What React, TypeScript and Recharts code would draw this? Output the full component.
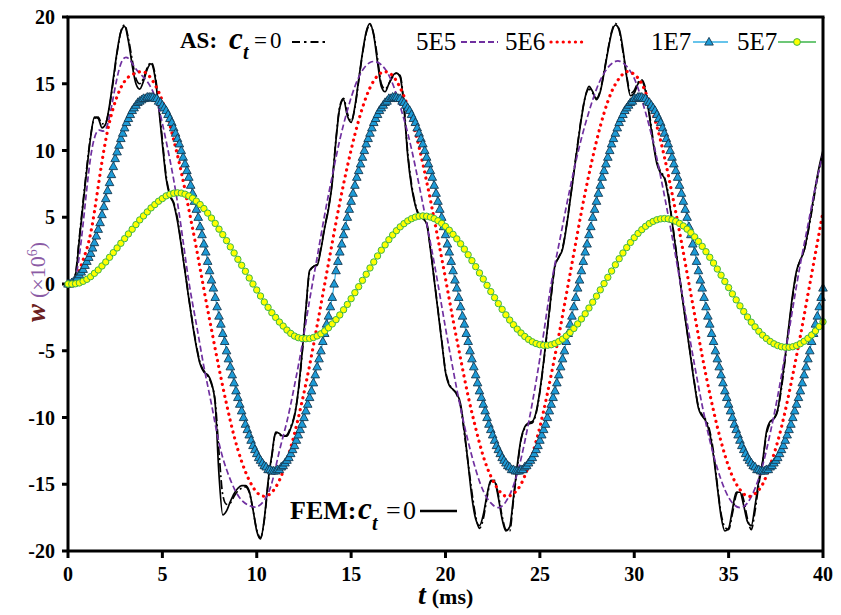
import React from "react";
import { LineChart, Line, XAxis, YAxis } from "recharts";

const SERIF = '"Liberation Serif", "Times New Roman", serif';

const xTicks = [0, 5, 10, 15, 20, 25, 30, 35, 40];
const yTicks = [-20, -15, -10, -5, 0, 5, 10, 15, 20];

const STEP_BLACK = 0.2;
const STEP_5E5 = 0.4;
const STEP_5E6 = 0.4;
const STEP_1E7 = 0.1;
const STEP_5E7 = 0.2;

// FEM, ct = 0 (solid black)
const femCt0 = [
  0, 0.1, 0.7, 3.3, 6.0, 8.6, 11.0, 12.5, 12.4, 11.7,
  12.0, 13.4, 15.4, 17.4, 18.9, 19.3, 18.2, 16.4, 15.0, 14.6,
  15.2, 16.1, 16.5, 15.6, 13.3, 10.5, 7.9, 6.6, 6.0, 4.7,
  2.9, 0.9, -1.1, -3.0, -4.7, -6.0, -6.6, -6.8, -7.4, -9.0,
  -14.3, -17.3, -17.0, -16.3, -15.7, -15.3, -15.1, -15.1, -15.5, -16.9,
  -18.5, -19.1, -17.6, -14.8, -12.8, -11.1, -11.2, -11.4, -11.4, -10.8,
  -9.9, -8.0, -5.2, -1.9, 1.0, 1.3, 1.4, 2.6, 4.2, 5.6,
  7.6, 10.8, 13.2, 13.8, 12.6, 12.1, 13.3, 15.3, 17.3, 18.9,
  19.5, 18.6, 16.6, 14.8, 14.4, 15.0, 15.6, 15.8, 15.5, 13.2,
  9.6, 7.3, 5.9, 5.1, 4.9, 4.5, 2.6, 0.3, -2.0, -4.3,
  -6.6, -7.6, -7.9, -8.2, -9.0, -11.0, -13.5, -16.0, -17.6, -18.1,
  -17.3, -15.8, -14.7, -14.8, -16.0, -17.6, -18.5, -18.2, -16.0, -13.6,
  -11.6, -10.7, -10.4, -10.3, -9.6, -8.0, -5.8, -3.3, -0.8, 1.4,
  2.0, 2.6, 4.2, 6.2, 8.3, 10.4, 12.4, 14.0, 14.8, 14.4,
  13.8, 14.4, 15.8, 17.4, 18.8, 19.4, 19.1, 17.6, 15.5, 14.1,
  14.3, 15.0, 15.2, 14.4, 12.6, 10.6, 9.0, 8.3, 7.9, 6.6,
  4.7, 2.6, 0.5, -1.6, -3.6, -5.6, -7.6, -9.3, -9.9, -10.3,
  -11.2, -12.9, -15.2, -17.4, -18.5, -18.3, -16.9, -15.6, -15.6, -16.6,
  -17.8, -18.1, -16.6, -14.7, -13.3, -11.1, -10.3, -10.1, -9.4, -7.6,
  -5.4, -3.0, -0.7, 1.0, 1.8, 2.5, 3.9, 5.6, 7.3, 8.8,
  10.0,
];

// AS, ct = 0 (black dash-dot)
const asCt0 = [
  0, 0.1, 0.8, 3.5, 6.2, 8.8, 11.1, 12.4, 12.5, 12.0,
  12.1, 13.3, 15.2, 17.3, 18.9, 19.4, 18.4, 16.8, 15.4, 15.0,
  15.4, 16.2, 16.6, 15.8, 13.6, 10.8, 8.1, 6.7, 6.1, 4.9,
  3.0, 1.0, -1.0, -2.9, -4.6, -5.9, -6.5, -6.9, -7.5, -8.8,
  -12.6, -15.8, -16.5, -16.4, -15.9, -15.5, -15.3, -15.2, -15.6, -16.9,
  -18.4, -19.0, -17.7, -15.0, -12.9, -11.2, -11.3, -11.4, -11.3, -10.7,
  -9.8, -8.1, -5.3, -2.0, 0.9, 1.3, 1.5, 2.7, 4.3, 5.7,
  7.7, 10.9, 13.3, 13.9, 12.8, 12.2, 13.2, 15.2, 17.2, 18.8,
  19.4, 18.7, 16.9, 15.0, 14.6, 15.0, 15.5, 15.8, 15.6, 13.4,
  9.8, 7.5, 6.0, 5.2, 5.0, 4.6, 2.7, 0.4, -1.9, -4.2,
  -6.5, -7.5, -7.9, -8.3, -9.2, -11.2, -13.4, -15.6, -17.4, -18.3,
  -17.6, -16.0, -14.8, -14.7, -15.8, -17.4, -18.4, -18.5, -16.2, -13.8,
  -11.7, -10.8, -10.5, -10.4, -9.7, -8.1, -5.9, -3.4, -0.9, 1.3,
  2.0, 2.7, 4.3, 6.3, 8.4, 10.5, 12.5, 14.0, 14.6, 14.3,
  13.9, 14.5, 15.9, 17.5, 18.9, 19.5, 19.0, 17.4, 15.6, 14.3,
  14.5, 15.1, 15.3, 14.6, 12.8, 10.8, 9.2, 8.4, 8.0, 6.8,
  4.8, 2.7, 0.6, -1.5, -3.5, -5.5, -7.5, -9.2, -9.8, -10.2,
  -11.0, -12.6, -15.0, -17.2, -18.2, -18.4, -17.2, -15.8, -15.4, -16.2,
  -17.6, -18.4, -17.0, -15.0, -13.4, -11.3, -10.4, -10.1, -9.5, -7.8,
  -5.6, -3.2, -0.9, 0.9, 1.8, 2.5, 3.8, 5.4, 7.1, 8.6,
  9.8,
];

// ct = 5E5 (purple dashed)
const w5E5 = [
  0, 0.5, 4.5, 9.5, 11.5, 11.6, 14.0, 16.5, 16.9, 16.1,
  15.5, 14.7, 13.2, 10.7, 7.8, 4.2, 0.2, -3.0, -6.2, -9.0,
  -11.9, -13.9, -15.3, -16.2, -16.6, -16.7, -16.2, -14.9, -12.5, -10.3,
  -7.6, -4.6, -1.2, 2.0, 5.2, 8.1, 10.8, 13.0, 14.8, 16.0,
  16.6, 16.6, 16.1, 15.0, 13.3, 11.3, 8.8, 6.0, 3.1, 0.0,
  -3.3, -6.4, -9.3, -11.8, -13.9, -15.5, -16.4, -16.75, -16.3, -15.1,
  -13.1, -10.4, -7.3, -3.7, 0.0, 2.9, 5.8, 8.5, 10.9, 12.9,
  14.6, 15.8, 16.5, 16.7, 16.3, 15.4, 13.8, 11.8, 9.4, 6.6,
  3.6, 0.4, -2.9, -6.1, -9.1, -11.7, -13.8, -15.4, -16.4, -16.75,
  -16.4, -15.3, -13.6, -11.2, -8.4, -5.2, -1.8, 1.5, 4.4, 7.3,
  9.8,
];

// ct = 5E6 (red dotted)
const w5E6 = [
  0, 0.4, 1.8, 3.8, 7.3, 10.8, 13.2, 14.7, 15.5, 15.8,
  15.9, 15.4, 14.4, 12.9, 10.8, 8.4, 5.6, 2.7, -0.4, -3.4,
  -6.3, -9.0, -11.4, -13.3, -14.7, -15.6, -15.9, -15.6, -14.7, -13.2,
  -11.2, -8.8, -6.1, -3.1, 0.0, 3.1, 6.1, 8.8, 11.2, 13.2,
  14.7, 15.6, 15.9, 15.6, 14.7, 13.3, 11.4, 9.0, 6.3, 3.4,
  0.4, -2.7, -5.6, -8.4, -10.8, -12.9, -14.4, -15.4, -15.9, -15.7,
  -15.0, -13.6, -11.8, -9.5, -6.8, -3.9, -0.8, 2.3, 5.4, 8.2,
  10.7, 12.8, 14.4, 15.4, 15.9, 15.7, 15.0, 13.6, 11.8, 9.5,
  6.8, 3.9, 0.8, -2.3, -5.4, -8.2, -10.7, -12.8, -14.4, -15.4,
  -15.9, -15.7, -15.0, -13.6, -11.8, -9.5, -6.8, -3.9, -0.8, 2.3,
  5.4,
];

// ct = 1E7 (blue triangles)
const w1E7 = [
  // 0 - 4.3 ms
  0, 0, 0.1, 0.2, 0.3, 0.5, 0.7, 0.9, 1.1, 1.4, 1.7, 2.0, 2.3, 2.7, 3.1, 3.6, 4.1, 4.6, 5.2, 5.8,
  6.4, 7.0, 7.6, 8.2, 8.8, 9.4, 9.9, 10.4, 10.9, 11.3, 11.7, 12.1, 12.4, 12.7, 13.0, 13.2, 13.4, 13.6, 13.7, 13.8,
  13.9, 13.9, 14.0, 14.0,
  // 4.4 - 10.9 ms
  14.0, 14.0, 13.9, 13.9, 13.7, 13.6, 13.4, 13.2, 13.0, 12.7, 12.4, 12.1, 11.7, 11.3, 10.9, 10.5, 10.0, 9.5, 9.0, 8.5,
  8.0, 7.4, 6.8, 6.2, 5.6, 5.0, 4.3, 3.7, 3.0, 2.4, 1.7, 1.0, 0.3, -0.3, -1.0, -1.7, -2.4, -3.0, -3.7, -4.3,
  -5.0, -5.6, -6.2, -6.8, -7.4, -8.0, -8.5, -9.0, -9.5, -10.0, -10.5, -10.9, -11.3, -11.7, -12.1, -12.4, -12.7, -13.0, -13.2, -13.4,
  -13.6, -13.7, -13.9, -13.9, -14.0, -14.0,
  // 11.0 - 17.3 ms
  -14.0, -13.9, -13.9, -13.7, -13.6, -13.4, -13.2, -13.0, -12.7, -12.4, -12.1, -11.7, -11.3, -10.9, -10.5, -10.0, -9.5, -9.0, -8.5, -8.0,
  -7.4, -6.8, -6.2, -5.6, -5.0, -4.3, -3.7, -3.0, -2.4, -1.7, -1.0, 0.0, 1.0, 1.7, 2.4, 3.0, 3.7, 4.3, 5.0, 5.6,
  6.2, 6.8, 7.4, 8.0, 8.5, 9.0, 9.5, 10.0, 10.5, 10.9, 11.3, 11.7, 12.1, 12.4, 12.7, 13.0, 13.2, 13.4, 13.6, 13.7,
  13.9, 13.9, 14.0, 14.0,
  // 17.4 - 23.8 ms
  14.0, 13.9, 13.9, 13.7, 13.6, 13.4, 13.2, 13.0, 12.7, 12.4, 12.1, 11.7, 11.3, 10.9, 10.5, 10.0, 9.5, 9.0, 8.5, 8.0,
  7.4, 6.8, 6.2, 5.6, 5.0, 4.3, 3.7, 3.0, 2.4, 1.7, 1.0, 0.3, -0.3, -1.0, -1.7, -2.4, -3.0, -3.7, -4.3, -5.0,
  -5.6, -6.2, -6.8, -7.4, -8.0, -8.5, -9.0, -9.5, -10.0, -10.5, -10.9, -11.3, -11.7, -12.1, -12.4, -12.7, -13.0, -13.2, -13.4, -13.6,
  -13.7, -13.9, -13.9, -14.0, -14.0,
  // 23.9 - 30.3 ms
  -14.0, -13.9, -13.9, -13.7, -13.6, -13.4, -13.2, -13.0, -12.7, -12.4, -12.1, -11.7, -11.3, -10.9, -10.5, -10.0, -9.5, -9.0, -8.5, -8.0,
  -7.4, -6.8, -6.2, -5.6, -5.0, -4.3, -3.7, -3.0, -2.4, -1.7, -1.0, -0.3, 0.3, 1.0, 1.7, 2.4, 3.0, 3.7, 4.3, 5.0,
  5.6, 6.2, 6.8, 7.4, 8.0, 8.5, 9.0, 9.5, 10.0, 10.5, 10.9, 11.3, 11.7, 12.1, 12.4, 12.7, 13.0, 13.2, 13.4, 13.6,
  13.7, 13.9, 13.9, 14.0, 14.0,
  // 30.4 - 36.8 ms
  14.0, 13.9, 13.9, 13.7, 13.6, 13.4, 13.2, 13.0, 12.7, 12.4, 12.1, 11.7, 11.3, 10.9, 10.5, 10.0, 9.5, 9.0, 8.5, 8.0,
  7.4, 6.8, 6.2, 5.6, 5.0, 4.3, 3.7, 3.0, 2.4, 1.7, 1.0, 0.3, -0.3, -1.0, -1.7, -2.4, -3.0, -3.7, -4.3, -5.0,
  -5.6, -6.2, -6.8, -7.4, -8.0, -8.5, -9.0, -9.5, -10.0, -10.5, -10.9, -11.3, -11.7, -12.1, -12.4, -12.7, -13.0, -13.2, -13.4, -13.6,
  -13.7, -13.9, -13.9, -14.0, -14.0,
  // 36.9 - 40.0 ms
  -14.0, -13.9, -13.9, -13.7, -13.6, -13.4, -13.2, -13.0, -12.7, -12.4, -12.1, -11.7, -11.3, -10.9, -10.5, -10.0, -9.5, -9.0, -8.5, -8.0,
  -7.4, -6.8, -6.2, -5.6, -5.0, -4.3, -3.7, -3.0, -2.4, -1.7, -1.0, -0.3,
];

// ct = 5E7 (yellow circles)
const w5E7 = [
  // 0 - 5.8 ms
  0, 0, 0.02, 0.08, 0.2, 0.35, 0.55, 0.8, 1.05, 1.35, 1.65, 2.0, 2.35, 2.7, 3.05, 3.4, 3.75, 4.1, 4.45, 4.8,
  5.1, 5.4, 5.7, 5.95, 6.2, 6.4, 6.6, 6.72, 6.8, 6.83,
  // 6.0 - 12.6 ms
  6.81, 6.73, 6.6, 6.43, 6.21, 5.95, 5.65, 5.31, 4.94, 4.54, 4.11, 3.7, 3.25, 2.78, 2.32, 1.85, 1.4, 0.95, 0.45, 0.0,
  -0.45, -0.9, -1.35, -1.75, -2.15, -2.5, -2.85, -3.15, -3.45, -3.7, -3.9, -4.02, -4.08, -4.1,
  // 12.8 - 18.8 ms
  -4.08, -4.01, -3.89, -3.73, -3.52, -3.28, -2.99, -2.67, -2.32, -1.93, -1.53, -1.1, -0.65, -0.2, 0.27, 0.73, 1.2, 1.65, 2.1, 2.53,
  2.93, 3.32, 3.67, 3.99, 4.28, 4.52, 4.73, 4.89, 5.01, 5.08, 5.1,
  // 19.0 - 25.2 ms
  5.08, 5.01, 4.9, 4.74, 4.54, 4.31, 4.03, 3.72, 3.38, 3.01, 2.61, 2.19, 1.75, 1.3, 0.83, 0.37, -0.1, -0.57, -1.02, -1.47,
  -1.9, -2.31, -2.7, -3.05, -3.38, -3.67, -3.93, -4.15, -4.33, -4.46, -4.55, -4.59,
  // 25.4 - 31.6 ms
  -4.59, -4.55, -4.45, -4.31, -4.13, -3.9, -3.64, -3.33, -2.99, -2.62, -2.23, -1.8, -1.36, -0.91, -0.44, 0.03, 0.5, 0.97, 1.44, 1.89,
  2.32, 2.73, 3.11, 3.47, 3.79, 4.07, 4.32, 4.53, 4.69, 4.81, 4.88, 4.9,
  // 31.8 - 38.0 ms
  4.88, 4.81, 4.7, 4.54, 4.35, 4.11, 3.84, 3.53, 3.19, 2.82, 2.42, 2.0, 1.57, 1.12, 0.66, 0.19, -0.27, -0.74, -1.19, -1.64,
  -2.06, -2.47, -2.86, -3.21, -3.54, -3.83, -4.08, -4.3, -4.48, -4.61, -4.7, -4.74,
  // 38.2 - 40.0 ms
  -4.74, -4.7, -4.61, -4.47, -4.29, -4.07, -3.82, -3.52, -3.19, -2.83,
];

const rows = (vals: number[], step: number) =>
  vals.map((w, i) => ({ t: Math.round(i * step * 100) / 100, w }));

const TRI_FILL = "#1D9BD7";
const TRI_EDGE = "#15384f";

function TriangleDot(props: any) {
  const { cx, cy, index } = props;
  if (cx == null || cy == null) return <g key={`tri-${index}`} />;
  return (
    <path
      key={`tri-${index}`}
      d={`M${cx},${cy - 4.6}L${cx + 4.3},${cy + 3.1}L${cx - 4.3},${cy + 3.1}Z`}
      fill={TRI_FILL}
      stroke={TRI_EDGE}
      strokeWidth={0.9}
    />
  );
}

const tickStyle = { fill: "#000", fontSize: 20, fontWeight: 700, fontFamily: SERIF };

export default function App() {
  return (
    <div style={{ position: "absolute", left: 0, top: 0, width: 841, height: 615, background: "#fff" }}>
      <LineChart width={841} height={615} margin={{ top: 17, right: 18, bottom: 24, left: 0 }}>
        <XAxis
          type="number"
          dataKey="t"
          domain={[0, 40]}
          ticks={xTicks}
          interval={0}
          height={40}
          tickSize={7}
          tickMargin={9}
          axisLine={{ stroke: "#000", strokeWidth: 3 }}
          tickLine={{ stroke: "#000", strokeWidth: 3 }}
          tick={tickStyle}
        />
        <YAxis
          type="number"
          domain={[-20, 20]}
          ticks={yTicks}
          interval={0}
          width={68}
          tickSize={6}
          tickMargin={7}
          axisLine={{ stroke: "#000", strokeWidth: 3 }}
          tickLine={{ stroke: "#000", strokeWidth: 3 }}
          tick={tickStyle}
        />
        <Line data={rows(femCt0, STEP_BLACK)} dataKey="w" type="monotone" stroke="#000" strokeWidth={1.7}
          dot={false} activeDot={false} isAnimationActive={false} />
        <Line data={rows(asCt0, STEP_BLACK)} dataKey="w" type="monotone" stroke="#000" strokeWidth={1.7}
          strokeDasharray="9 3 2 3" dot={false} activeDot={false} isAnimationActive={false} />
        <Line data={rows(w5E5, STEP_5E5)} dataKey="w" type="natural" stroke="#7030A0" strokeWidth={1.7}
          strokeDasharray="6 3" dot={false} activeDot={false} isAnimationActive={false} />
        <Line data={rows(w5E6, STEP_5E6)} dataKey="w" type="natural" stroke="#FF0000" strokeWidth={3.2}
          strokeDasharray="0.1 6" strokeLinecap="round" dot={false} activeDot={false} isAnimationActive={false} />
        <Line data={rows(w1E7, STEP_1E7)} dataKey="w" type="monotone" stroke="#35B0E5" strokeWidth={1.2}
          dot={TriangleDot} activeDot={false} isAnimationActive={false} />
        <Line data={rows(w5E7, STEP_5E7)} dataKey="w" type="monotone" stroke="#3DB54A" strokeWidth={1}
          dot={{ r: 3.2, fill: "#FFFF00", stroke: "#3DB54A", strokeWidth: 1 }} activeDot={false} isAnimationActive={false} />
      </LineChart>

      <svg width={841} height={615} style={{ position: "absolute", left: 0, top: 0, pointerEvents: "none" }} fontFamily={SERIF}>
        {/* plot frame, top and right */}
        <line x1={66.5} y1={17} x2={824.5} y2={17} stroke="#000" strokeWidth={3} />
        <line x1={823} y1={17} x2={823} y2={551} stroke="#000" strokeWidth={3} />

        {/* legend row */}
        <text x={180} y={48} fontSize={23} fontWeight={700}>AS:</text>
        <text x={229} y={49} fontSize={31} fontWeight={700} fontStyle="italic">c</text>
        <text x={243} y={59} fontSize={20} fontWeight={700} fontStyle="italic">t</text>
        <text x={254} y={48} fontSize={23}>=</text>
        <text x={270} y={48} fontSize={23}>0</text>
        <line x1={292} y1={42} x2={328} y2={42} stroke="#000" strokeWidth={2} strokeDasharray="8 4 2.5 4" />

        <text x={416} y={50} fontSize={25}>5E5</text>
        <line x1={461} y1={42} x2={498} y2={42} stroke="#7030A0" strokeWidth={2} strokeDasharray="6 3" />
        <text x={505} y={50} fontSize={25}>5E6</text>
        <line x1={551} y1={42} x2={585} y2={42} stroke="#FF0000" strokeWidth={3.2} strokeDasharray="0.1 6" strokeLinecap="round" />
        <text x={651} y={50} fontSize={25}>1E7</text>
        <line x1={693} y1={42} x2={728} y2={42} stroke="#35B0E5" strokeWidth={1.5} />
        <path d="M709,37.4L713.3,45.1L704.7,45.1Z" fill={TRI_FILL} stroke={TRI_EDGE} strokeWidth={0.9} />
        <text x={737} y={50} fontSize={25}>5E7</text>
        <line x1={778} y1={42} x2={816} y2={42} stroke="#3DB54A" strokeWidth={1.5} />
        <circle cx={797} cy={42} r={3.4} fill="#FFFF00" stroke="#3DB54A" strokeWidth={1} />

        {/* FEM label */}
        <text x={290} y={519} fontSize={26} fontWeight={700}>FEM:</text>
        <text x={358} y={519} fontSize={31} fontWeight={700} fontStyle="italic">c</text>
        <text x={372} y={530} fontSize={20} fontWeight={700} fontStyle="italic">t</text>
        <text x={386} y={519} fontSize={26}>=</text>
        <text x={403} y={519} fontSize={26}>0</text>
        <line x1={420} y1={511} x2={457} y2={511} stroke="#000" strokeWidth={2.5} />

        {/* axis titles */}
        <text transform="translate(45,322) rotate(-90)">
          <tspan fontSize={27} fontWeight={700} fontStyle="italic" fill="#6B2020">w</tspan>
          <tspan dx={6} fontSize={22} fill="#8B5BA5">(×10</tspan>
          <tspan dy={-8} fontSize={14} fill="#8B5BA5">6</tspan>
          <tspan dy={8} fontSize={22} fill="#8B5BA5">)</tspan>
        </text>
        <text x={418} y={604}>
          <tspan fontSize={28} fontWeight={700} fontStyle="italic">t</tspan>
          <tspan dx={6} fontSize={22} fontWeight={700}>(ms)</tspan>
        </text>
      </svg>
    </div>
  );
}
